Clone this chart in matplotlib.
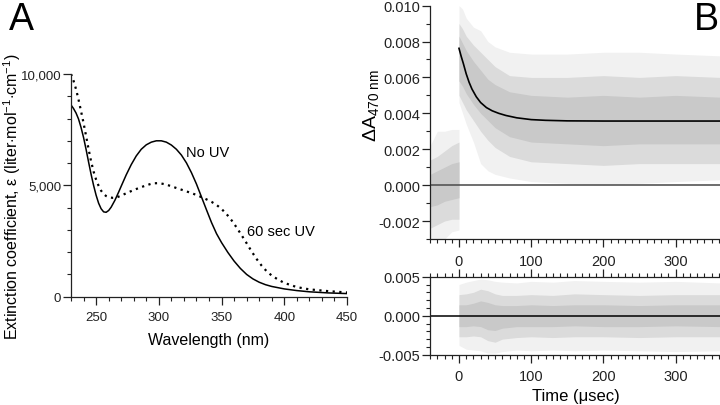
import matplotlib
matplotlib.use('Agg')
import matplotlib.pyplot as plt
from matplotlib.ticker import MultipleLocator, FuncFormatter

# panel A: absorption spectra
wl_no_uv = [230, 232, 234, 236, 238, 240, 242, 244, 246, 248, 250, 252, 254, 256, 258, 260, 262, 265, 268, 270,
            274, 278, 282, 286, 290, 294, 298, 302, 306, 310, 314, 318, 322, 326, 330, 334, 338, 342, 346, 350,
            355, 360, 365, 370, 375, 380, 385, 390, 400, 410, 420, 435, 450]
no_uv = [8610, 8450, 8250, 7980, 7600, 7150, 6620, 6050, 5500, 5000, 4560, 4200, 3950, 3810, 3790, 3870, 4020,
         4330, 4700, 4960, 5470, 5930, 6320, 6620, 6820, 6940, 7000, 7000, 6940, 6810, 6620, 6360, 6010, 5570,
         5060, 4480, 3900, 3330, 2830, 2430, 1990, 1600, 1270, 1000, 800, 650, 540, 460, 350, 275, 220, 170, 140]
wl_uv = [230, 232, 234, 236, 238, 240, 242, 244, 246, 248, 250, 252, 254, 256, 258, 260, 263, 266, 270, 275,
         280, 285, 290, 295, 300, 305, 310, 315, 320, 325, 330, 334, 338, 342, 346, 350, 354, 358, 362, 366,
         370, 374, 378, 382, 386, 390, 395, 400, 410, 420, 435, 450]
uv_60s = [10000, 9700, 9320, 8850, 8330, 7800, 7220, 6630, 6080, 5620, 5260, 4980, 4760, 4610, 4520, 4470, 4440,
          4450, 4540, 4670, 4790, 4900, 5000, 5090, 5100, 5050, 4960, 4860, 4770, 4670, 4570, 4470, 4370, 4260,
          4120, 3940, 3710, 3430, 3110, 2760, 2400, 2030, 1690, 1390, 1140, 950, 770, 620, 430, 330, 250, 190]

# panel B: transient (fit line) and envelopes of the gray data cloud
t_fit = [0, 3, 6, 10, 14, 18, 24, 30, 38, 46, 55, 65, 80, 100, 120, 150, 200, 250, 300, 362]
fit = [0.00762, 0.00718, 0.00678, 0.00620, 0.00573, 0.00535, 0.00492, 0.00460, 0.00432, 0.00414, 0.00400,
       0.00388, 0.00375, 0.00365, 0.00361, 0.00358, 0.00357, 0.00357, 0.00357, 0.00357]

t_pre = [-40, -30, -20, -10, 0]
pre_out_hi = [0.0022, 0.0030, 0.0030, 0.0031, 0.0031]
pre_mid_hi = [0.0014, 0.0016, 0.0019, 0.0022, 0.0024]
pre_core_hi = [0.0006, 0.0008, 0.0010, 0.0012, 0.0013]
pre_core_lo = [-0.0012, -0.0011, -0.0009, -0.0008, -0.0007]
pre_mid_lo = [-0.0024, -0.0022, -0.0020, -0.0019, -0.0019]
pre_out_lo = [-0.0030, -0.0030, -0.0030, -0.0026, -0.0025]

t_post = [0, 5, 10, 20, 30, 40, 50, 70, 100, 150, 200, 250, 300, 362]
out_hi = [0.0100, 0.0098, 0.0093, 0.0088, 0.0086, 0.0080, 0.0077, 0.0074, 0.0073, 0.0073, 0.0074, 0.0074, 0.0073, 0.0072]
mid_hi = [0.0090, 0.0087, 0.0083, 0.0078, 0.0074, 0.0070, 0.0066, 0.0061, 0.0060, 0.0060, 0.0061, 0.0060, 0.0061, 0.0060]
core_hi = [0.0083, 0.0079, 0.0075, 0.0069, 0.0064, 0.0059, 0.0056, 0.0052, 0.0050, 0.0049, 0.0050, 0.0049, 0.0050, 0.0049]
core_lo = [0.0058, 0.0055, 0.0051, 0.0045, 0.0040, 0.0036, 0.0032, 0.0027, 0.0024, 0.0023, 0.0022, 0.0023, 0.0023, 0.0023]
mid_lo = [0.0050, 0.0046, 0.0042, 0.0036, 0.0030, 0.0025, 0.0021, 0.0016, 0.0013, 0.0012, 0.0011, 0.0012, 0.0012, 0.0012]
out_lo = [0.0046, 0.0040, 0.0034, 0.0024, 0.0012, 0.0008, 0.0006, 0.0004, 0.0002, 0.0001, 0.0000, 0.0001, 0.0002, 0.0003]

t_res = [0, 10, 20, 30, 40, 50, 60, 80, 100, 130, 160, 200, 250, 300, 362]
res_out_hi = [0.0040, 0.0043, 0.0045, 0.0047, 0.0046, 0.0044, 0.0043, 0.0042, 0.0044, 0.0043, 0.0045, 0.0044, 0.0043, 0.0044, 0.0042]
res_mid_hi = [0.0027, 0.0028, 0.0030, 0.0034, 0.0032, 0.0028, 0.0026, 0.0026, 0.0027, 0.0026, 0.0028, 0.0027, 0.0026, 0.0027, 0.0027]
res_core_hi = [0.0014, 0.0014, 0.0016, 0.0019, 0.0017, 0.0014, 0.0013, 0.0013, 0.0014, 0.0013, 0.0014, 0.0014, 0.0013, 0.0014, 0.0014]
res_core_lo = [-0.0014, -0.0014, -0.0013, -0.0014, -0.0018, -0.0019, -0.0016, -0.0014, -0.0014, -0.0014, -0.0013, -0.0014, -0.0014, -0.0013, -0.0014]
res_mid_lo = [-0.0027, -0.0027, -0.0026, -0.0027, -0.0032, -0.0034, -0.0030, -0.0028, -0.0027, -0.0028, -0.0027, -0.0027, -0.0028, -0.0027, -0.0027]
res_out_lo = [-0.0038, -0.0043, -0.0044, -0.0045, -0.0048, -0.0048, -0.0046, -0.0044, -0.0045, -0.0044, -0.0045, -0.0044, -0.0045, -0.0046, -0.0045]

GRAY_OUT = '#f1f1f1'
GRAY_MID = '#dbdbdb'
GRAY_CORE = '#c9c9c9'


def style_ticks(ax, size, xpad):
    ax.tick_params(which='major', direction='out', length=5.5, width=0.9, pad=1.5, labelsize=size, colors='#222222')
    ax.tick_params(which='minor', direction='out', length=3, width=0.8, colors='#222222')
    ax.tick_params(axis='x', which='major', pad=xpad)
    for s in ax.spines.values():
        s.set_linewidth(0.9)
        s.set_color('#222222')


def cloud(ax, t, bands):
    # bands: (lo, hi, color) from outer to inner
    for lo, hi, c in bands:
        ax.fill_between(t, lo, hi, color=c, lw=0, zorder=1)


def fmt3(v, p):
    return '0.000' if abs(v) < 1e-9 else '%.3f' % v


def main():
    plt.rcParams['font.family'] = ['Liberation Sans', 'DejaVu Sans']
    plt.rcParams['mathtext.fontset'] = 'custom'
    plt.rcParams['mathtext.rm'] = 'Liberation Sans'
    plt.rcParams['mathtext.it'] = 'Liberation Sans:italic'
    plt.rcParams['axes.unicode_minus'] = False

    fig = plt.figure(figsize=(7.2, 4.06), dpi=100)

    # ---- panel A
    axA = fig.add_axes([71 / 720, 1 - 297.7 / 406, 276 / 720, 222.7 / 406])
    axA.plot(wl_no_uv, no_uv, color='black', lw=1.1)
    axA.plot(wl_uv, uv_60s, color='black', lw=1.6, ls=(0, (1, 2)))
    axA.set_xlim(230, 450)
    axA.set_ylim(0, 10000)
    axA.spines['top'].set_visible(False)
    axA.spines['right'].set_visible(False)
    axA.xaxis.set_major_locator(MultipleLocator(50))
    axA.xaxis.set_minor_locator(MultipleLocator(10))
    axA.yaxis.set_major_locator(MultipleLocator(5000))
    axA.yaxis.set_minor_locator(MultipleLocator(1000))
    axA.yaxis.set_major_formatter(FuncFormatter(lambda v, p: '{:,}'.format(int(v))))
    style_ticks(axA, 9.5, 5)
    axA.text(322, 6500, 'No UV', fontsize=10.5, ha='left', va='center')
    axA.text(370, 2950, '60 sec UV', fontsize=10.5, ha='left', va='center')
    fig.text(209 / 720, 1 - 340.5 / 406, 'Wavelength (nm)', fontsize=11.5, ha='center', va='center')
    fig.text(12 / 720, 1 - 196.5 / 406,
             'Extinction coefficient, ε (liter$\\cdot$mol$^{-1}$$\\cdot$cm$^{-1}$)',
             fontsize=11.5, rotation=90, ha='center', va='center')
    fig.text(9 / 720, 1 - 2 / 406, 'A', fontsize=27, ha='left', va='top')

    # ---- panel B, top: transient
    x0 = 430.1 / 720
    axB = fig.add_axes([x0, 1 - 240 / 406, 1 - x0, 233.4 / 406])
    cloud(axB, t_pre, [(pre_out_lo, pre_out_hi, GRAY_OUT), (pre_mid_lo, pre_mid_hi, GRAY_MID),
                       (pre_core_lo, pre_core_hi, GRAY_CORE)])
    cloud(axB, t_post, [(out_lo, out_hi, GRAY_OUT), (mid_lo, mid_hi, GRAY_MID), (core_lo, core_hi, GRAY_CORE)])
    axB.axhline(0, color='#555555', lw=1.2, zorder=2)
    axB.plot(t_fit, fit, color='black', lw=1.2, zorder=3)
    axB.set_xlim(-40, 361.5)
    axB.set_ylim(-0.003, 0.010)
    axB.spines['top'].set_visible(False)
    axB.spines['right'].set_visible(False)
    axB.xaxis.set_major_locator(MultipleLocator(100))
    axB.xaxis.set_minor_locator(MultipleLocator(10))
    axB.yaxis.set_major_locator(MultipleLocator(0.002))
    axB.yaxis.set_minor_locator(MultipleLocator(0.001))
    axB.yaxis.set_major_formatter(FuncFormatter(fmt3))
    style_ticks(axB, 10.5, 5)
    fig.text(371 / 720, 1 - 106 / 406, 'ΔA$_{\\mathrm{470\\ nm}}$', fontsize=14,
             rotation=90, ha='center', va='center')
    fig.text(694 / 720, 1 - 2 / 406, 'B', fontsize=27, ha='left', va='top')

    # ---- panel B, bottom: residuals
    axR = fig.add_axes([x0, 1 - 355.7 / 406, 1 - x0, 78 / 406])
    cloud(axR, t_res, [(res_out_lo, res_out_hi, GRAY_OUT), (res_mid_lo, res_mid_hi, GRAY_MID),
                       (res_core_lo, res_core_hi, GRAY_CORE)])
    axR.axhline(0, color='black', lw=1.1, zorder=2)
    axR.set_xlim(-40, 361.5)
    axR.set_ylim(-0.005, 0.005)
    axR.spines['right'].set_visible(False)
    axR.xaxis.set_major_locator(MultipleLocator(100))
    axR.xaxis.set_minor_locator(MultipleLocator(10))
    axR.yaxis.set_major_locator(MultipleLocator(0.005))
    axR.yaxis.set_minor_locator(MultipleLocator(0.001))
    axR.yaxis.set_major_formatter(FuncFormatter(fmt3))
    axR.tick_params(which='both', top=True)
    style_ticks(axR, 10.5, 4.5)
    fig.text(575.5 / 720, 1 - 397 / 406, 'Time (μsec)', fontsize=12, ha='center', va='center')

    fig.savefig('out.png', dpi=100)


if __name__ == '__main__':
    main()
